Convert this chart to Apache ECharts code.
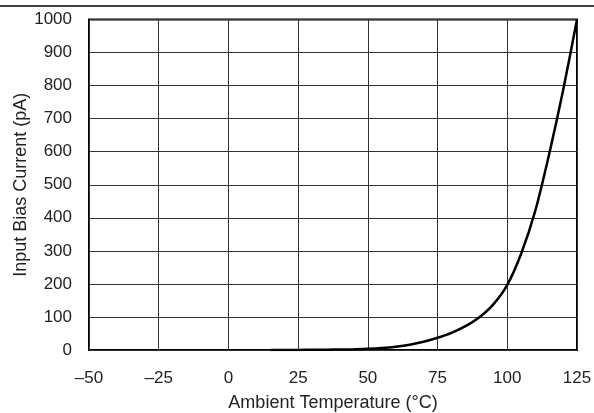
<!DOCTYPE html>
<html><head><meta charset="utf-8">
<script src="https://cdn.jsdelivr.net/npm/echarts@6/dist/echarts.min.js"></script>
<style>html,body{margin:0;padding:0;background:#fff}#c{width:594px;height:413px}</style>
</head><body><div id="c"></div>
<script>
const temperature = [15, 20, 25, 30, 35, 40, 45, 50, 55, 60, 65, 70, 75, 80, 85, 90, 95, 100, 105, 110, 115, 120, 125];
const biasCurrent = [0, 0, 0.3, 0.6, 1, 1.5, 2.3, 3.5, 6, 10, 16, 25, 37, 52, 72, 99, 138, 197, 292, 420, 592, 785, 1000];
const xTicks = [-50, -25, 0, 25, 50, 75, 100, 125];
const yTicks = [0, 100, 200, 300, 400, 500, 600, 700, 800, 900, 1000];
const xTitle = 'Ambient Temperature (°C)';
const yTitle = 'Input Bias Current (pA)';

const chart = echarts.init(document.getElementById('c'), null, {renderer: 'canvas'});
const font = '"Liberation Sans", Arial, sans-serif';
const txt = '#222';
chart.setOption({
  animation: false,
  grid: {left: 89, right: 17, top: 19.5, bottom: 63, show: true, borderColor: '#000', borderWidth: 2,
         backgroundColor: '#fff', outerBoundsMode: 'none', containLabel: false},
  graphic: [{type: 'line', shape: {x1: 0, y1: 6, x2: 594, y2: 6}, style: {stroke: '#000', lineWidth: 1.5}}],
  xAxis: {
    type: 'value', min: xTicks[0], max: xTicks[xTicks.length - 1], interval: 25,
    name: xTitle, nameLocation: 'middle', nameGap: 44, nameMoveOverlap: false,
    nameTextStyle: {fontFamily: font, fontSize: 18, color: txt},
    axisLine: {show: false}, axisTick: {show: false},
    axisLabel: {fontFamily: font, fontSize: 17, color: txt, margin: 20,
      formatter: v => v < 0 ? '\u2013' + Math.abs(v) : String(v)},
    splitLine: {show: true, lineStyle: {color: '#333', width: 1}}
  },
  yAxis: {
    type: 'value', min: yTicks[0], max: yTicks[yTicks.length - 1], interval: 100,
    name: yTitle, nameLocation: 'middle', nameGap: 59, nameRotate: 90, nameMoveOverlap: false,
    nameTextStyle: {fontFamily: font, fontSize: 18, color: txt},
    axisLine: {show: false}, axisTick: {show: false},
    axisLabel: {fontFamily: font, fontSize: 17, color: txt, margin: 17, formatter: v => String(v)},
    splitLine: {show: true, lineStyle: {color: '#333', width: 1}}
  },
  series: [{
    type: 'line', data: temperature.map((t, i) => [t, biasCurrent[i]]),
    smooth: 0.3, showSymbol: false, lineStyle: {color: '#000', width: 2.5}
  }]
});
</script></body></html>
